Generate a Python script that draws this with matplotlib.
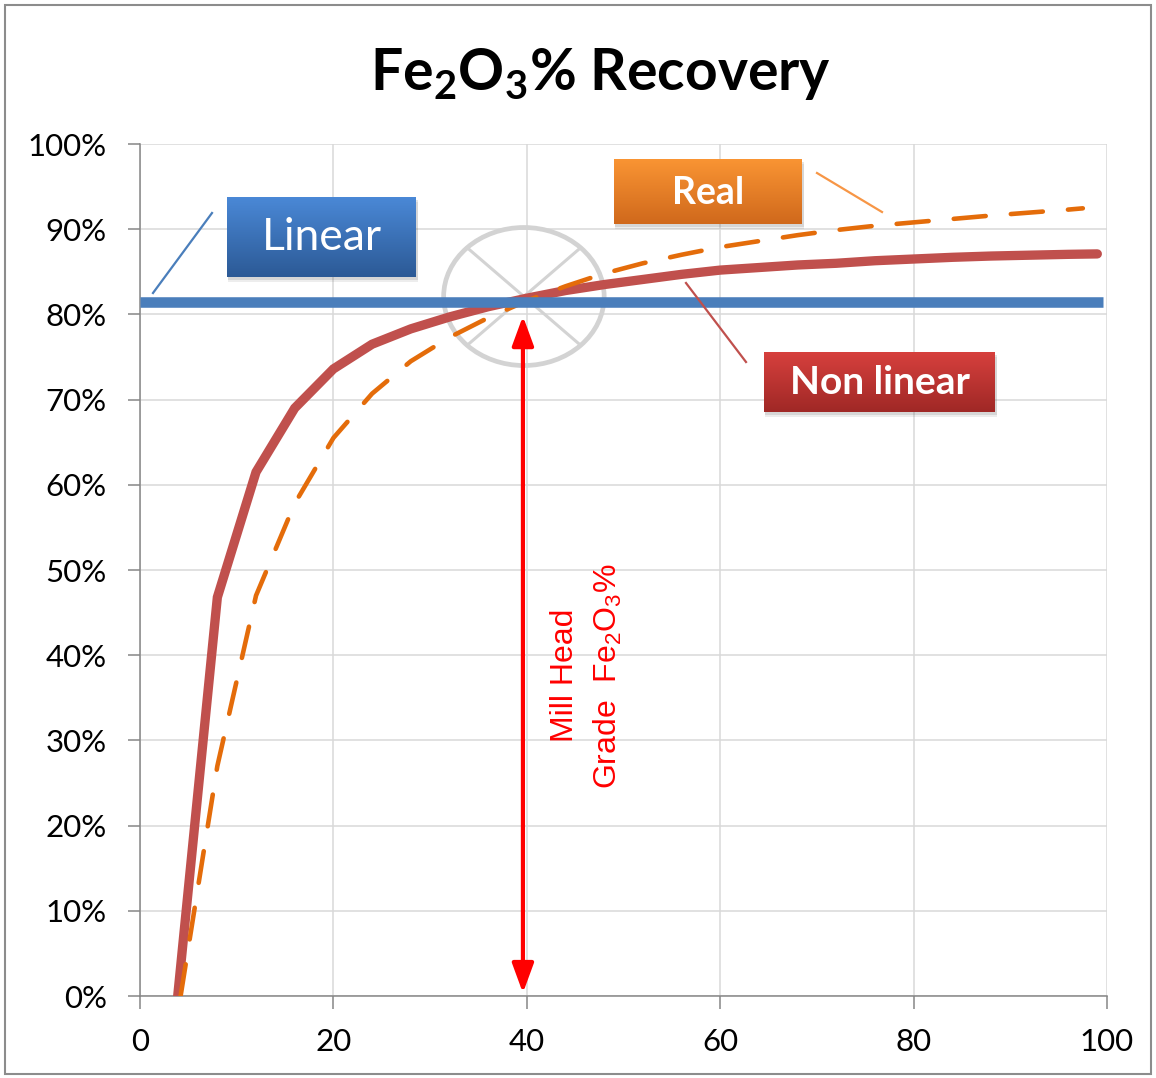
import numpy as np
import matplotlib
matplotlib.use("Agg")
import matplotlib.pyplot as plt
from matplotlib.patches import Ellipse, Rectangle
from matplotlib.colors import LinearSegmentedColormap

plt.rcParams['font.family'] = ['Lato', 'DejaVu Sans']
plt.rcParams['mathtext.fontset'] = 'custom'
plt.rcParams['mathtext.rm'] = 'Liberation Sans'
plt.rcParams['mathtext.bf'] = 'Lato:bold'

# recovery curves (mill head grade vs recovery %)
x_nonlinear = [3.9, 8, 12, 16, 20, 24, 28, 32, 36, 40, 44, 48, 52, 56, 60,
               64, 68, 72, 76, 80, 84, 88, 92, 96, 99]
y_nonlinear = [0, 46.8, 61.5, 69.0, 73.6, 76.5, 78.3, 79.7, 80.9, 81.9, 82.8,
               83.5, 84.1, 84.7, 85.2, 85.5, 85.8, 86.0, 86.3, 86.5, 86.7,
               86.85, 86.95, 87.05, 87.1]

x_real = [4.2, 8, 12, 16, 20, 24, 28, 32, 36, 40, 44, 48, 52, 56, 60,
          64, 68, 72, 76, 80, 84, 88, 92, 96, 97.5]
y_real = [0, 27, 47, 57.8, 65.5, 70.7, 74.5, 77.3, 79.6, 81.6, 83.3, 84.8,
          86.0, 87.0, 87.9, 88.6, 89.3, 89.9, 90.4, 90.8, 91.2, 91.6,
          91.95, 92.3, 92.45]

x_linear = [0, 99.6]
y_linear = [81.5, 81.5]

mill_head_x = 39.6
mill_head_y = [79.8, 0.35]
cross_center = (39.7, 82.1)

x_ticks = [0, 20, 40, 60, 80, 100]
y_ticks = [0, 10, 20, 30, 40, 50, 60, 70, 80, 90, 100]
y_ticklabels = [f'{v}%' for v in y_ticks]

W, H = 1156, 1078
fig = plt.figure(figsize=(W / 100, H / 100), dpi=100)
ax = fig.add_axes([140 / W, (H - 996) / H, 967 / W, 852 / H])

ax.plot(x_nonlinear, y_nonlinear, color='#c0504d', lw=6.7,
        solid_capstyle='round', solid_joinstyle='miter', zorder=3)
ax.plot(x_real, y_real, color='#e46c0a', lw=3.3, dashes=(7, 5.5),
        dash_capstyle='round', zorder=4)
ax.plot(x_linear, y_linear, color='#4a7ebb', lw=7.6,
        solid_capstyle='butt', zorder=5)

# crossed circle around the intersection
ell_w, ell_h = 16.6, 16.2
ax.add_patch(Ellipse(cross_center, ell_w, ell_h, fill=False,
                     ec='#d3d3d3', lw=3.4, zorder=2.5))
dx, dy = ell_w / 2 * 0.707, ell_h / 2 * 0.707
cx, cy = cross_center
ax.plot([cx - dx, cx + dx], [cy + dy, cy - dy], color='#d3d3d3', lw=2.2, zorder=2.5)
ax.plot([cx + dx, cx - dx], [cy + dy, cy - dy], color='#d3d3d3', lw=2.2, zorder=2.5)

ax.annotate('', xy=(mill_head_x, mill_head_y[0]), xytext=(mill_head_x, mill_head_y[1]),
            arrowprops=dict(arrowstyle='<|-|>,head_length=0.9,head_width=0.33',
                            mutation_scale=20, color='#ff0000', lw=3,
                            shrinkA=0, shrinkB=0), zorder=6)

ax.set_xlim(0, 100)
ax.set_ylim(0, 100)
ax.set_xticks(x_ticks)
ax.set_yticks(y_ticks)
ax.set_yticklabels(y_ticklabels)
ax.grid(True, color='#d9d9d9', lw=1.1)
ax.set_axisbelow(True)
for s in ['top', 'right']:
    ax.spines[s].set_visible(False)
for s in ['left', 'bottom']:
    ax.spines[s].set_color('#868686')
    ax.spines[s].set_linewidth(1.1)
ax.tick_params(axis='both', length=9, width=1.1, color='#868686',
               labelsize=22.5, labelcolor='#000000')
ax.tick_params(axis='x', pad=14)
ax.tick_params(axis='y', pad=15)
for lbl in ax.get_xticklabels() + ax.get_yticklabels():
    lbl.set_clip_on(False)

# overlay in pixel coordinates for callout boxes and notes
ov = fig.add_axes([0, 0, 1, 1], zorder=10)
ov.set_xlim(0, W)
ov.set_ylim(H, 0)
ov.axis('off')
ov.patch.set_alpha(0)


def callout(x0, y0, x1, y1, top, bottom, text, size, weight):
    for off, a in [(5, 0.10), (3, 0.15)]:
        ov.add_patch(Rectangle((x0 + 1, y0 + off), x1 - x0 + 1, y1 - y0,
                               color='#555555', alpha=a, lw=0, zorder=1))
    cmap = LinearSegmentedColormap.from_list('g', [top, bottom])
    grad = np.linspace(0, 1, 64).reshape(-1, 1)
    ov.imshow(grad, cmap=cmap, extent=(x0, x1, y1, y0), aspect='auto',
              interpolation='bilinear', zorder=2)
    ov.text((x0 + x1) / 2, (y0 + y1) / 2 + 1, text, color='white', fontsize=size,
            fontweight=weight, ha='center', va='center', zorder=3)


callout(227, 197, 416, 277, '#4a88d6', '#2c5a96', 'Linear', 32, 'normal')
callout(614, 159, 802, 224, '#f99433', '#d0691c', 'Real', 27, 'bold')
callout(764, 352, 995, 412, '#d6403d', '#a02826', 'Non linear', 28, 'bold')

ov.set_xlim(0, W)
ov.set_ylim(H, 0)

ov.plot([153, 212], [293, 213], color='#4a7ebb', lw=1.6)
ov.plot([817, 882], [173, 212], color='#f79646', lw=1.6)
ov.plot([686, 746], [283, 362], color='#c0504d', lw=1.6)

ov.text(565, 675, 'Mill Head', rotation=90, color='#ff0000', fontsize=23,
        family=['Liberation Sans', 'DejaVu Sans'], ha='center', va='center')
ov.text(608, 676, r'Grade  Fe$_\mathrm{2}$O$_\mathrm{3}$%', rotation=90,
        color='#ff0000', fontsize=23, family=['Liberation Sans', 'DejaVu Sans'],
        ha='center', va='center')

fig.text(600 / W, (H - 90) / H, r'Fe$_\mathbf{2}$O$_\mathbf{3}$% Recovery',
         fontsize=41, fontweight='bold', ha='center', va='baseline')

# outer chart frame
ov.add_patch(Rectangle((5, 5), W - 10, H - 9, fill=False, ec='#8c8c8c', lw=1.5))

fig.savefig('out.png', dpi=100)
